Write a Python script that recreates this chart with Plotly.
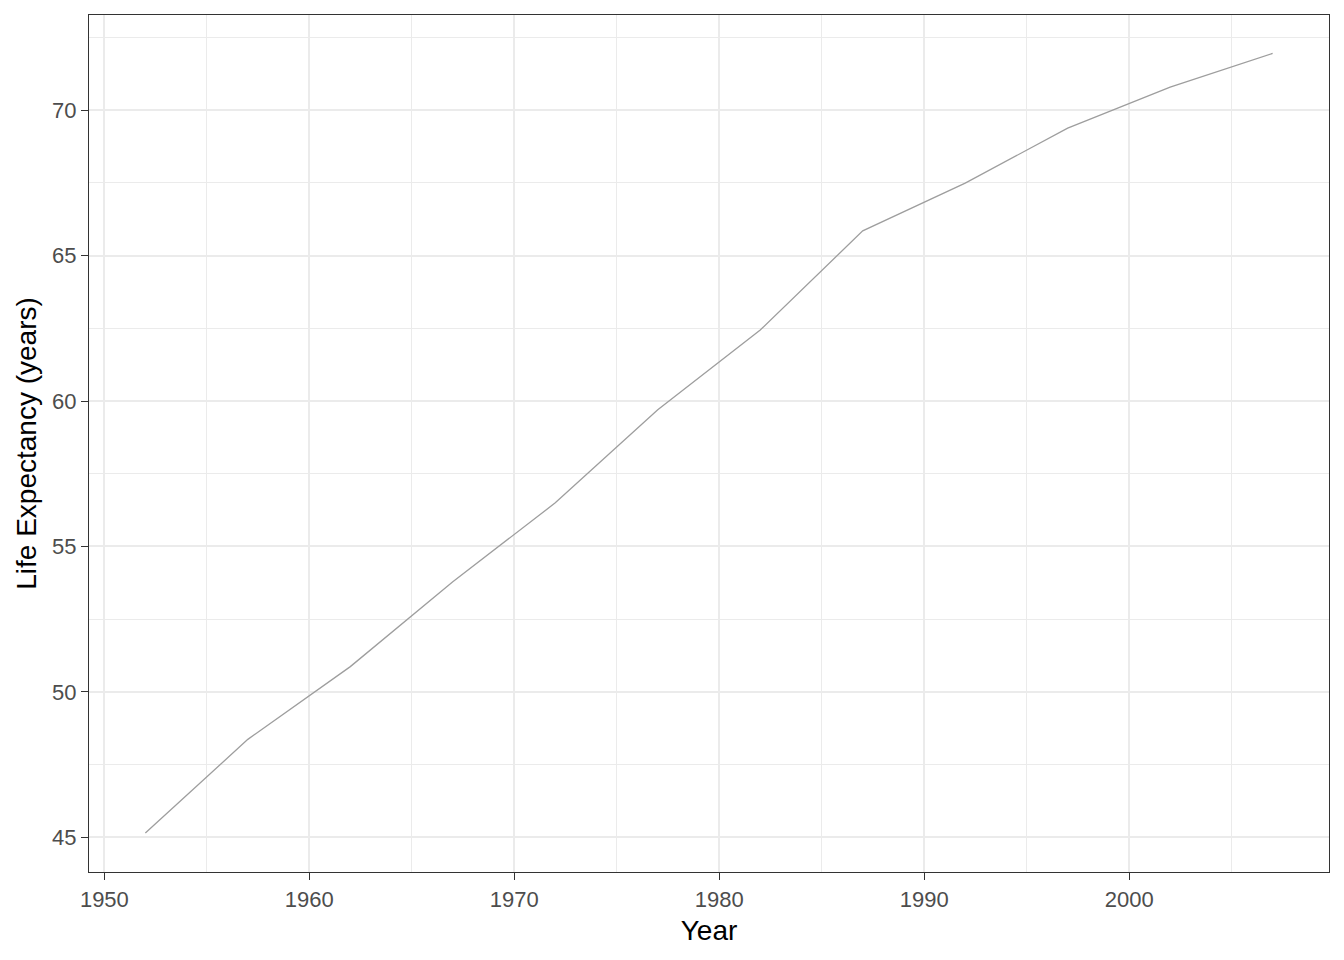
import plotly.graph_objects as go

years = [1952, 1957, 1962, 1967, 1972, 1977, 1982, 1987, 1992, 1997, 2002, 2007]
life_exp = [45.15, 48.37, 50.87, 53.79, 56.50, 59.70, 62.44, 65.85, 67.49, 69.38, 70.79, 71.95]

x_ticks = [1950, 1960, 1970, 1980, 1990, 2000]
y_ticks = [45, 50, 55, 60, 65, 70]

fig = go.Figure()
fig.add_trace(go.Scatter(x=years, y=life_exp, mode="lines",
                         line=dict(color="#9e9e9e", width=1.3),
                         showlegend=False, hoverinfo="x+y"))

axis_common = dict(
    showline=True, linecolor="#333333", linewidth=1.3, mirror=True,
    ticks="outside", ticklen=7, tickwidth=1.3, tickcolor="#333333",
    tickfont=dict(family="Liberation Sans, Arial, sans-serif", size=22, color="#4d4d4d"),
    showgrid=True, gridcolor="#ebebeb", gridwidth=1.5,
    zeroline=False,
)

fig.update_xaxes(
    **axis_common,
    range=[1949.25, 2009.75],
    tickvals=x_ticks,
    minor=dict(dtick=5, tick0=1955, showgrid=True, gridcolor="#ebebeb", gridwidth=0.8, ticks=""),
    title=dict(text="Year", font=dict(family="Liberation Sans, Arial, sans-serif", size=28, color="black"), standoff=9),
)
fig.update_yaxes(
    **axis_common,
    range=[43.81, 73.27],
    tickvals=y_ticks,
    minor=dict(dtick=2.5, tick0=47.5, showgrid=True, gridcolor="#ebebeb", gridwidth=0.8, ticks=""),
    title=dict(text="Life Expectancy (years)", font=dict(family="Liberation Sans, Arial, sans-serif", size=28, color="black"), standoff=7),
)

fig.update_layout(
    width=1344, height=960,
    autosize=False,
    paper_bgcolor="white", plot_bgcolor="white",
    margin=dict(l=89, r=15, t=15, b=88, autoexpand=False),
)

fig.write_html("out.html", config={"displayModeBar": False},
               post_script="document.body.style.margin='0px';document.body.style.overflow='hidden';")
